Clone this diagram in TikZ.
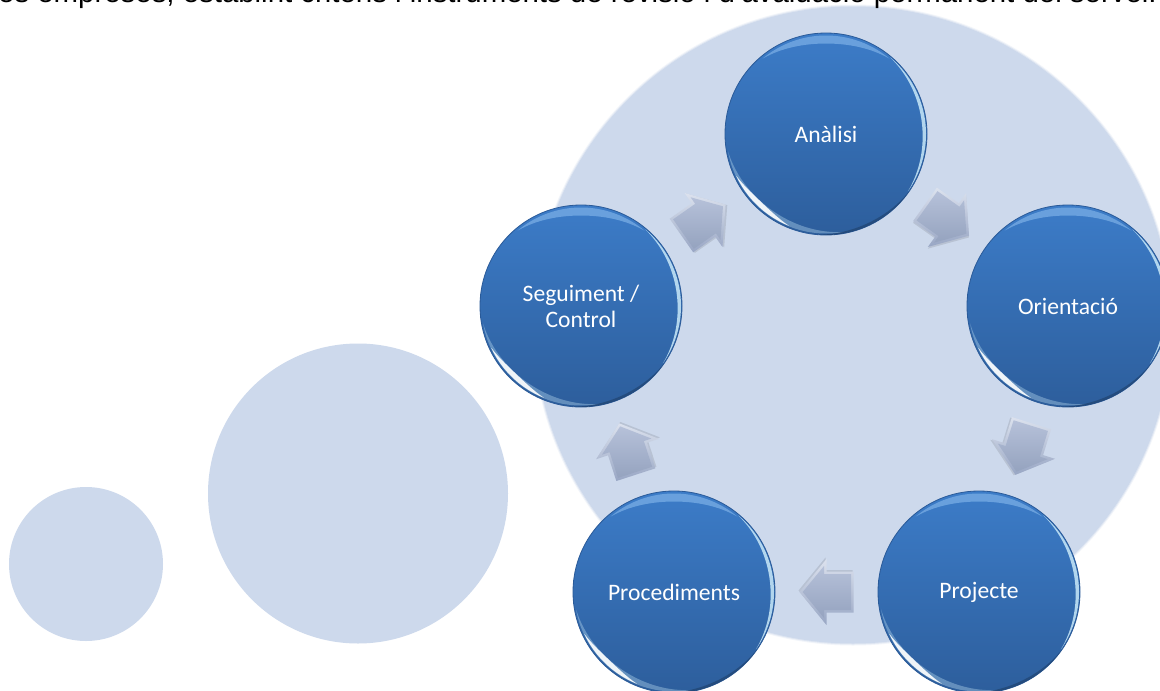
\documentclass[tikz,border=0pt]{standalone}
\usepackage{fontspec}
\setmainfont{Liberation Sans}
\newfontfamily\carlitofont{Carlito}
\usetikzlibrary{calc}
\definecolor{paleblue}{HTML}{CDD9EC}
\definecolor{ballTop}{HTML}{3C7CC8}
\definecolor{ballBot}{HTML}{2D5E9C}
\definecolor{ballEdge}{HTML}{2A5A98}
\definecolor{glossTop}{HTML}{8FC0F0}
\definecolor{glossSide}{HTML}{C8E8F8}
\definecolor{arrowTop}{HTML}{B6C1D9}
\definecolor{arrowBot}{HTML}{95A3BF}
\definecolor{bevelTop}{HTML}{DCE2EE}
\definecolor{bevelBot}{HTML}{98A6C4}
\tikzset{
  paledisc/.style={circle,fill=paleblue,draw=none,inner sep=0pt,minimum size=#1},
  stepball/.style={circle,inner sep=0pt,minimum size=202pt,align=center,
    top color=ballTop,bottom color=ballBot,draw=ballEdge,line width=.8pt,
    text=white,font=\carlitofont\fontsize{23.6}{26}\selectfont},
  headline/.style={anchor=base west,inner sep=0pt,text=black,
    font=\fontsize{29.4}{32}\selectfont},
}
% tapered highlight along the rim of a ball: name, from angle, to angle, thickness, colour, opacity, radius
\newcommand\gloss[7]{%
  \begin{scope}[shift={(#1.center)},x=1pt,y=1pt]
    \fill[#5,opacity=#6]
      plot[domain=#2:#3,samples=30,smooth] (\x:#7)
      -- plot[domain=#3:#2,samples=30,smooth] (\x:{#7-#4*sin(180*(\x-(#2))/((#3)-(#2)))})
      -- cycle;
  \end{scope}}
\newcommand\ballgloss[1]{%
  \gloss{#1}{190}{280}{6}{glossSide}{.35}{99.5}%
  \gloss{#1}{205}{248}{5}{white}{.9}{99}%
  \gloss{#1}{50}{130}{8}{glossTop}{.55}{98.5}%
  \gloss{#1}{-35}{50}{3.5}{glossSide}{.85}{100}%
  \gloss{#1}{265}{325}{2.5}{black}{.2}{101}%
}
% block arrow placed half-way between two named balls, pointing from the first to the second
\newcommand\arrowpoly{(27pt,0pt) -- (0pt,33pt) -- (0pt,20.5pt) -- (-27pt,20.5pt)
      -- (-27pt,-20.5pt) -- (0pt,-20.5pt) -- (0pt,-33pt) -- cycle}
\newcommand\flowarrow[2]{%
  \path let \p1=($(#2)-(#1)$), \n1={atan2(\y1,\x1)} in \pgfextra{\xdef\arrowangle{\n1}};
  \begin{scope}[shift={($(#1)!.5!(#2)$)},rotate=\arrowangle]
    \fill[black,opacity=.10,shift={(1pt,-1.5pt)}] \arrowpoly;
    \shade[top color=bevelTop,bottom color=bevelBot] \arrowpoly;
    \shade[top color=arrowTop,bottom color=arrowBot]
      (23.8pt,0pt) -- (2.5pt,26pt) -- (2.5pt,18pt) -- (-24.5pt,18pt)
      -- (-24.5pt,-18pt) -- (2.5pt,-18pt) -- (2.5pt,-26pt) -- cycle;
  \end{scope}}
\begin{document}
\begin{tikzpicture}[x=1pt,y=-1pt]
  \useasboundingbox (0,0) rectangle (1160,691);
  \clip (0,0) rectangle (1160,691);
  \fill[white] (0,0) rectangle (1160,691);
  % pale discs
  \fill[paleblue,opacity=.25] (853,325) circle[radius=320.5pt];
  \fill[paleblue,opacity=.5] (853,325) circle[radius=319.5pt];
  \node[paledisc=637pt] (bigdisc) at (853,325) {};
  \node[paledisc=300pt] (middisc) at (358,493.5) {};
  \node[paledisc=154pt] (smalldisc) at (86,564) {};
  % headline, cut by the top of the picture
  \node[headline] (headtext) at (-2,2) {es empreses, establint criteris i instruments de revisió i d'avaluació permanent del servei.};
  % balls
  \node[stepball] (analisi) at (826,134) {Anàlisi};
  \node[stepball] (orientacio) at (1068,306) {Orientació};
  \node[stepball] (projecte) at (979,592) {Projecte};
  \node[stepball] (procediments) at (674,592) {Procediments};
  \node[stepball] (seguiment) at (581,306) {Seguiment /\\Control};
  \ballgloss{analisi}\ballgloss{orientacio}\ballgloss{projecte}\ballgloss{procediments}\ballgloss{seguiment}
  % arrows
  \flowarrow{analisi}{orientacio}
  \flowarrow{orientacio}{projecte}
  \flowarrow{projecte}{procediments}
  \flowarrow{procediments}{seguiment}
  \flowarrow{seguiment}{analisi}
\end{tikzpicture}
\end{document}
